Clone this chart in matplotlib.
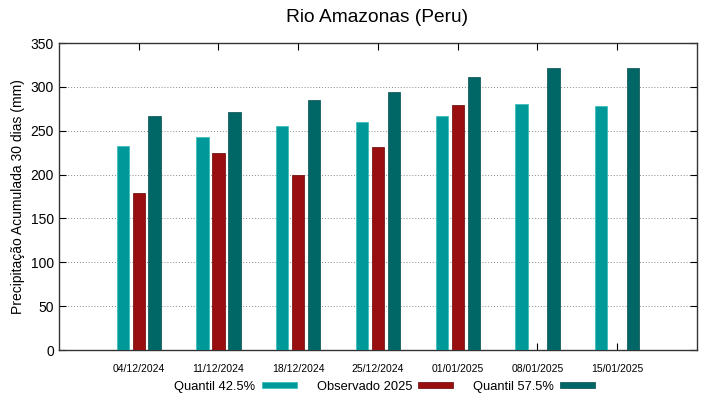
import matplotlib.pyplot as plt
import numpy as np

plt.rcParams['font.family'] = ['Liberation Sans', 'DejaVu Sans']

dates = ["04/12/2024", "11/12/2024", "18/12/2024", "25/12/2024",
         "01/01/2025", "08/01/2025", "15/01/2025"]
q425 = [233, 243, 256, 260, 267, 281, 278]
obs2025 = [179, 225, 200, 232, 279, np.nan, np.nan]
q575 = [267, 271, 285, 294, 311, 322, 322]

c_q425 = "#009999"
c_obs = "#990e0e"
c_q575 = "#006666"

fig = plt.figure(figsize=(7.19, 3.99), dpi=100)
ax = fig.add_axes([0.082, 0.1228, 0.8874, 0.7692])

x = np.arange(len(dates))
w = 0.155
b1 = ax.bar(x - 0.2, q425, w, color=c_q425, edgecolor="#33bbbb", linewidth=0.5,
            label="Quantil 42.5%", zorder=3)
b2 = ax.bar(x, obs2025, w, color=c_obs, edgecolor="#660000", linewidth=0.5,
            label="Observado 2025", zorder=3)
b3 = ax.bar(x + 0.2, q575, w, color=c_q575, edgecolor="#004c4c", linewidth=0.5,
            label="Quantil 57.5%", zorder=3)

ax.set_xlim(-1, 7)
ax.set_ylim(0, 350)
ax.set_xticks(x)
ax.set_xticklabels(dates, fontsize=7.5)
ax.set_yticks(range(0, 351, 50))
ax.tick_params(axis="y", labelsize=10, direction="in", right=True, length=5)
ax.tick_params(axis="x", direction="in", top=True, length=5, pad=10)
ax.yaxis.grid(True, linestyle=(0, (1, 2)), color="#888888", linewidth=0.7, zorder=0)
for s in ax.spines.values():
    s.set_color("#333333")
    s.set_linewidth(1)

ax.set_ylabel("Precipitação Acumulada 30 dias (mm)", fontsize=10)
fig.suptitle("Rio Amazonas (Peru)", fontsize=13.8, x=0.525, y=0.978)

fig.legend(handles=[b1, b2, b3], loc="center", bbox_to_anchor=(0.535, 0.030),
           ncol=3, frameon=False, markerfirst=False, fontsize=9.3,
           handlelength=2.7, handleheight=0.35, columnspacing=1.55, handletextpad=0.47)

plt.savefig("out.png", dpi=100)
